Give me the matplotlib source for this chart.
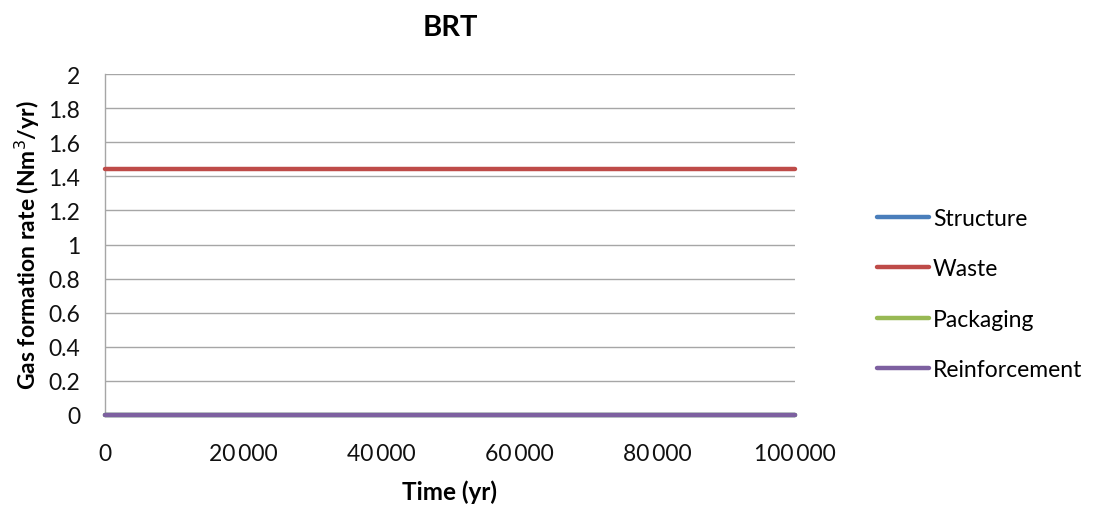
import matplotlib
matplotlib.use("Agg")
import matplotlib.pyplot as plt
from matplotlib.ticker import FuncFormatter

plt.rcParams['font.family'] = ['Lato', 'DejaVu Sans']

# Time axis (years) and gas formation rates (Nm3/yr) per source
time_yr = [0, 100000]
structure = [0.0, 0.0]
waste = [1.44, 1.44]
packaging = [0.0, 0.0]
reinforcement = [0.0, 0.0]

series_names = ["Structure", "Waste", "Packaging", "Reinforcement"]
series_values = [structure, waste, packaging, reinforcement]
series_colors = ["#4A7EBB", "#BE4B48", "#98B954", "#7D60A0"]

x_ticks = [0, 20000, 40000, 60000, 80000, 100000]
y_ticks = [0, 0.2, 0.4, 0.6, 0.8, 1, 1.2, 1.4, 1.6, 1.8, 2]

fig = plt.figure(figsize=(11, 5.1), dpi=100)
ax = fig.add_axes([105/1100, 1 - 416/510, 690/1100, 341/510])

for name, vals, col in zip(series_names, series_values, series_colors):
    ax.plot(time_yr, vals, color=col, lw=3.2, label=name, solid_capstyle='round',
            clip_on=False, zorder=3)

ax.set_xlim(0, 100000)
ax.set_ylim(0, 2)
ax.set_xticks(x_ticks)
ax.set_yticks(y_ticks)
ax.xaxis.set_major_formatter(FuncFormatter(lambda v, p: f"{int(v):,}".replace(",", "\u2009")))
ax.yaxis.set_major_formatter(FuncFormatter(lambda v, p: f"{v:g}"))
ax.grid(axis='y', color='#a6a6a6', lw=1.0)
ax.set_axisbelow(True)
for s in ['top', 'right', 'bottom']:
    ax.spines[s].set_visible(False)
ax.spines['left'].set_color('#a6a6a6')
ax.spines['left'].set_linewidth(1.0)
ax.tick_params(axis='both', length=0, labelsize=16.5, colors='#111111')
ax.tick_params(axis='x', pad=20)
ax.tick_params(axis='y', pad=18)

ax.set_title("BRT", fontsize=21, fontweight='bold', pad=28)
ax.set_xlabel("Time (yr)", fontsize=17.5, fontweight='bold', labelpad=11)
ax.set_ylabel("Gas formation rate (Nm$^3$/yr)", fontsize=16.5, fontweight='bold', labelpad=4)

leg = fig.legend(loc='center left', bbox_to_anchor=(856/1100, 1 - 295/510), frameon=False,
                 fontsize=16.5, handlelength=2.3, handletextpad=0.15, labelspacing=1.27)

fig.savefig("out.png", dpi=100)
